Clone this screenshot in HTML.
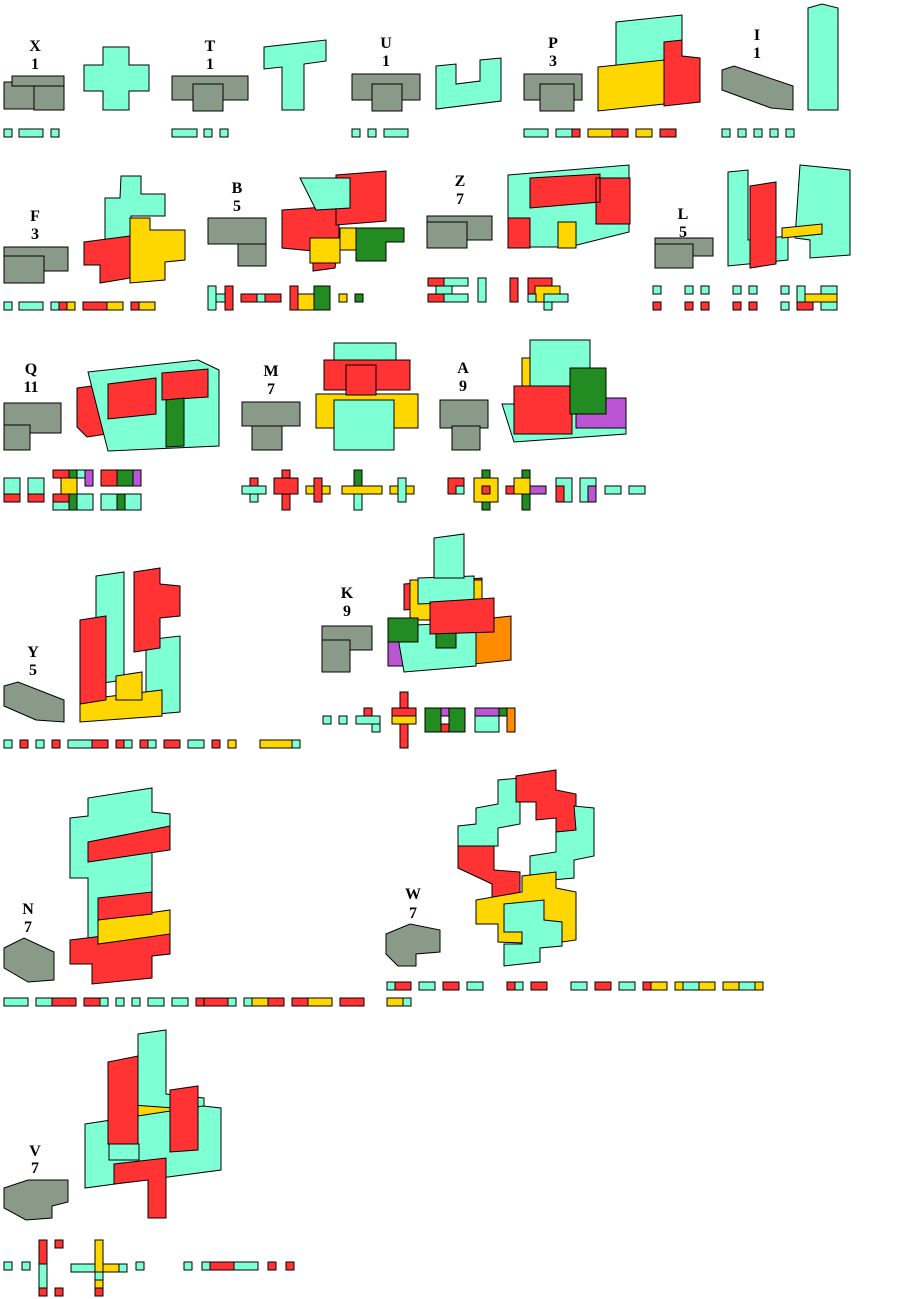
<!DOCTYPE html>
<html><head><meta charset="utf-8"><style>
html,body{margin:0;padding:0;background:#fff;width:900px;height:1299px;overflow:hidden}
svg text{font-family:"Liberation Serif",serif;font-weight:bold;font-size:16px;text-anchor:middle}
.a{fill:#7fffd4;stroke:#000;stroke-width:1}
.r{fill:#ff3333;stroke:#000;stroke-width:1}
.y{fill:#ffd700;stroke:#000;stroke-width:1}
.g{fill:#228b22;stroke:#000;stroke-width:1}
.p{fill:#ba55d3;stroke:#000;stroke-width:1}
.o{fill:#ff8c00;stroke:#000;stroke-width:1}
.k{fill:#8a9a88;stroke:#000;stroke-width:1}
</style></head><body>
<svg width="900" height="1299" xmlns="http://www.w3.org/2000/svg">
<!-- Row 1 -->
<text x="35" y="51">X</text><text x="35" y="69">1</text>
<rect class="k" x="4" y="82" width="30" height="27"/><rect class="k" x="34" y="84" width="30" height="26"/><rect class="k" x="12" y="76" width="52" height="10"/>
<path class="a" d="M103 47h26v18h20v26h-20v19h-26v-19h-19v-26h19z"/>
<rect class="a" x="4" y="129" width="8" height="8"/><rect class="a" x="19" y="129" width="24" height="8"/><rect class="a" x="51" y="129" width="8" height="8"/>

<text x="210" y="51">T</text><text x="210" y="69">1</text>
<rect class="k" x="172" y="76" width="76" height="24"/><rect class="k" x="193" y="84" width="30" height="27"/>
<path class="a" d="M264 47l62-7v21l-22 3v46h-22v-43l-18 2z"/>
<rect class="a" x="172" y="129" width="25" height="8"/><rect class="a" x="204" y="129" width="8" height="8"/><rect class="a" x="220" y="129" width="8" height="8"/>

<text x="386" y="48">U</text><text x="386" y="66">1</text>
<rect class="k" x="352" y="74" width="68" height="26"/><rect class="k" x="372" y="84" width="30" height="27"/>
<path class="a" d="M436 66l20-2v20l24-3v-21l21-2v43l-65 8z"/>
<rect class="a" x="352" y="129" width="8" height="8"/><rect class="a" x="368" y="129" width="8" height="8"/><rect class="a" x="384" y="129" width="24" height="8"/>

<text x="553" y="48">P</text><text x="553" y="66">3</text>
<rect class="k" x="524" y="74" width="58" height="26"/><rect class="k" x="540" y="84" width="34" height="27"/>
<path class="a" d="M616 22l66-7v44l-66 8z"/>
<path class="y" d="M598 67l66-7v44l-66 7z"/>
<path class="r" d="M664 42l18-2v16l18 2v44l-36 4z"/>
<rect class="a" x="524" y="129" width="24" height="8"/><rect class="a" x="556" y="129" width="16" height="8"/><rect class="r" x="572" y="129" width="8" height="8"/><rect class="y" x="588" y="129" width="24" height="8"/><rect class="r" x="612" y="129" width="16" height="8"/><rect class="y" x="636" y="129" width="16" height="8"/><rect class="r" x="660" y="129" width="16" height="8"/>

<text x="757" y="40">I</text><text x="757" y="58">1</text>
<path class="k" d="M722 70l12-4 59 20v24l-22-2-49-18z"/>
<path class="a" d="M808 8l14-4 16 4v102h-30z"/>
<rect class="a" x="722" y="129" width="8" height="8"/><rect class="a" x="738" y="129" width="8" height="8"/><rect class="a" x="754" y="129" width="8" height="8"/><rect class="a" x="770" y="129" width="8" height="8"/><rect class="a" x="786" y="129" width="8" height="8"/>

<!-- Row 2 -->
<text x="35" y="221">F</text><text x="35" y="239">3</text>
<rect class="k" x="4" y="247" width="64" height="24"/><rect class="k" x="4" y="256" width="40" height="27"/>
<path class="a" d="M121 176h20v18h24v22h-34v42h-26v-60h15z"/>
<path class="r" d="M84 242l46-6v42l-30 5v-18h-16z"/>
<path class="y" d="M130 218h20v12h35v30l-20 2v18l-35 3z"/>
<rect class="a" x="4" y="302" width="8" height="8"/><rect class="a" x="19" y="302" width="24" height="8"/><rect class="a" x="51" y="302" width="8" height="8"/><rect class="r" x="59" y="302" width="8" height="8"/><rect class="y" x="67" y="302" width="8" height="8"/><rect class="r" x="83" y="302" width="24" height="8"/><rect class="y" x="107" y="302" width="16" height="8"/><rect class="r" x="131" y="302" width="8" height="8"/><rect class="y" x="139" y="302" width="16" height="8"/>

<text x="237" y="193">B</text><text x="237" y="211">5</text>
<rect class="k" x="208" y="218" width="58" height="26"/><rect class="k" x="238" y="244" width="28" height="22"/>
<path class="r" d="M282 210l57-4v36l-4 26-22 3v-20l-31-3z"/>
<path class="y" d="M310 238h30v25h-30zM340 228h27v22h-27z"/>
<path class="g" d="M356 228h48v14h-18v19h-30z"/>
<path class="r" d="M336 175l50-4v50l-50 4z"/>
<path class="a" d="M300 178h50v30l-34 2z"/>
<rect class="a" x="208" y="286" width="8" height="24"/><rect class="a" x="216" y="294" width="9" height="8"/><rect class="r" x="225" y="286" width="8" height="24"/><rect class="r" x="241" y="294" width="16" height="8"/><rect class="a" x="257" y="294" width="8" height="8"/><rect class="r" x="265" y="294" width="16" height="8"/><rect class="r" x="290" y="286" width="8" height="24"/><rect class="y" x="298" y="294" width="16" height="16"/><rect class="g" x="314" y="286" width="16" height="24"/><rect class="y" x="339" y="294" width="8" height="8"/><rect class="g" x="355" y="294" width="8" height="8"/>

<text x="460" y="186">Z</text><text x="460" y="204">7</text>
<rect class="k" x="427" y="216" width="65" height="24"/><rect class="k" x="427" y="222" width="40" height="26"/>
<path class="a" d="M508 175l121-10v67l-60 15h-61z"/>
<path class="r" d="M508 218h22v30h-22zM530 178l70-4v28l-70 6zM596 178h34v46h-34z"/>
<path class="y" d="M558 222h18v26h-18z"/>
<rect class="r" x="428" y="278" width="16" height="8"/><rect class="a" x="444" y="278" width="24" height="8"/><rect class="a" x="436" y="286" width="16" height="8"/><rect class="r" x="428" y="294" width="16" height="8"/><rect class="a" x="444" y="294" width="24" height="8"/><rect class="a" x="478" y="278" width="8" height="24"/><rect class="r" x="510" y="278" width="8" height="24"/><rect class="r" x="528" y="278" width="24" height="16"/><rect class="y" x="535" y="286" width="25" height="16"/><rect class="a" x="528" y="294" width="8" height="8"/><rect class="a" x="544" y="294" width="24" height="8"/><rect class="a" x="544" y="302" width="8" height="8"/>

<rect class="k" x="655" y="238" width="58" height="18"/><rect class="k" x="655" y="244" width="38" height="24"/>
<text x="683" y="219">L</text><text x="683" y="237">5</text>
<path class="a" d="M728 172l20-2v70l40-4v24l-60 6z"/>
<path class="a" d="M800 165l50 5v85l-40 3v-18l-15-2z"/>
<path class="y" d="M782 228l40-4v10l-40 4z"/>
<path class="r" d="M750 186l26-4v82l-26 4z"/>
<rect class="a" x="653" y="286" width="8" height="8"/><rect class="r" x="653" y="302" width="8" height="8"/><rect class="a" x="685" y="286" width="8" height="8"/><rect class="a" x="701" y="286" width="8" height="8"/><rect class="r" x="685" y="302" width="8" height="8"/><rect class="r" x="701" y="302" width="8" height="8"/><rect class="a" x="733" y="286" width="8" height="8"/><rect class="a" x="749" y="286" width="8" height="8"/><rect class="r" x="733" y="302" width="8" height="8"/><rect class="r" x="749" y="302" width="8" height="8"/><rect class="a" x="781" y="286" width="8" height="8"/><rect class="a" x="781" y="302" width="8" height="8"/><rect class="a" x="797" y="286" width="8" height="16"/><rect class="y" x="805" y="294" width="32" height="8"/><rect class="a" x="821" y="286" width="16" height="8"/><rect class="r" x="797" y="302" width="16" height="8"/><rect class="a" x="821" y="302" width="16" height="8"/>

<!-- Row 3 -->
<text x="31" y="374">Q</text><text x="31" y="392">11</text>
<rect class="k" x="4" y="403" width="57" height="30"/><rect class="k" x="4" y="425" width="26" height="25"/>
<path class="r" d="M77 388l30-4v50l-20 3-10-10z"/>
<path class="a" d="M88 372l110-12 21 10v76l-111 5z"/>
<path class="r" d="M108 384l48-6v36l-48 5zM162 373l46-4v28l-46 3z"/>
<path class="g" d="M166 400l18-2v48l-18 1z"/>
<rect class="a" x="4" y="478" width="16" height="16"/><rect class="r" x="4" y="494" width="16" height="8"/><rect class="a" x="28" y="478" width="16" height="16"/><rect class="r" x="28" y="494" width="16" height="8"/>
<rect class="r" x="53" y="470" width="16" height="8"/><rect class="g" x="69" y="470" width="8" height="8"/><rect class="a" x="77" y="470" width="8" height="8"/><rect class="p" x="85" y="470" width="8" height="16"/><rect class="y" x="61" y="478" width="16" height="16"/><rect class="r" x="53" y="494" width="16" height="8"/><rect class="g" x="69" y="494" width="8" height="16"/><rect class="a" x="77" y="494" width="16" height="16"/><rect class="a" x="53" y="502" width="16" height="8"/>
<rect class="r" x="101" y="470" width="16" height="16"/><rect class="g" x="117" y="470" width="16" height="16"/><rect class="p" x="133" y="470" width="8" height="16"/><rect class="a" x="101" y="494" width="40" height="16"/><rect class="g" x="117" y="494" width="8" height="16"/>

<text x="271" y="376">M</text><text x="271" y="394">7</text>
<rect class="k" x="242" y="402" width="58" height="24"/><rect class="k" x="252" y="426" width="30" height="24"/>
<path class="a" d="M334 343h62v30h-62z"/>
<path class="r" d="M324 360h86v30h-86z"/>
<path class="y" d="M316 394h102v34h-102z"/>
<path class="a" d="M334 400h60v50h-60z"/>
<path class="r" d="M346 365h30v30h-30z"/>
<rect class="a" x="242" y="486" width="24" height="8"/><rect class="a" x="250" y="494" width="8" height="8"/><rect class="r" x="250" y="478" width="8" height="8"/><rect class="r" x="282" y="470" width="8" height="40"/><rect class="r" x="274" y="478" width="24" height="16"/><rect class="y" x="306" y="486" width="24" height="8"/><rect class="r" x="314" y="478" width="8" height="24"/><rect class="g" x="354" y="470" width="8" height="16"/><rect class="y" x="342" y="486" width="40" height="8"/><rect class="a" x="354" y="494" width="8" height="16"/><rect class="y" x="390" y="486" width="24" height="8"/><rect class="a" x="398" y="478" width="8" height="24"/>

<text x="463" y="373">A</text><text x="463" y="391">9</text>
<rect class="k" x="440" y="400" width="48" height="28"/><rect class="k" x="452" y="426" width="28" height="24"/>
<path class="a" d="M502 404h124v30l-112 8z"/>
<path class="p" d="M576 398h50v30h-50z"/>
<path class="y" d="M522 358h40v36h-40z"/>
<path class="a" d="M530 340h60v50h-60z"/>
<path class="r" d="M514 386h58v48h-58z"/>
<path class="g" d="M570 368h36v46h-36z"/>
<rect class="r" x="448" y="478" width="16" height="16"/><rect class="a" x="456" y="486" width="8" height="8"/><rect class="g" x="482" y="470" width="8" height="40"/><rect class="y" x="474" y="478" width="24" height="24"/><rect class="r" x="482" y="486" width="8" height="8"/><rect class="g" x="522" y="470" width="8" height="40"/><rect class="r" x="506" y="486" width="40" height="8"/><rect class="y" x="514" y="478" width="16" height="16"/><rect class="p" x="530" y="486" width="16" height="8"/><rect class="a" x="556" y="478" width="16" height="24"/><rect class="r" x="556" y="486" width="8" height="16"/><rect class="a" x="580" y="478" width="16" height="24"/><rect class="p" x="588" y="486" width="8" height="16"/><rect class="a" x="605" y="486" width="16" height="8"/><rect class="a" x="629" y="486" width="16" height="8"/>

<!-- Row 4 -->
<text x="33" y="657">Y</text><text x="33" y="675">5</text>
<path class="k" d="M4 686l14-4 46 18v22l-28-2-32-14z"/>
<path class="a" d="M96 576l28-4v108l-28 4z"/>
<path class="a" d="M146 640l34-4v76l-34 3z"/>
<path class="y" d="M80 700l82-10v26l-82 6z"/>
<path class="y" d="M116 676l26-4v28h-26z"/>
<path class="r" d="M80 620l26-4v84l-26 4zM134 572l26-4v16l20 2v30l-20 2v30l-26 4z"/>
<rect class="a" x="4" y="740" width="8" height="8"/><rect class="r" x="20" y="740" width="8" height="8"/><rect class="a" x="36" y="740" width="8" height="8"/><rect class="r" x="52" y="740" width="8" height="8"/><rect class="a" x="68" y="740" width="24" height="8"/><rect class="r" x="92" y="740" width="16" height="8"/><rect class="r" x="116" y="740" width="16" height="8"/><rect class="a" x="124" y="740" width="8" height="8"/><rect class="r" x="140" y="740" width="16" height="8"/><rect class="a" x="148" y="740" width="8" height="8"/><rect class="r" x="164" y="740" width="16" height="8"/><rect class="a" x="188" y="740" width="16" height="8"/><rect class="r" x="212" y="740" width="8" height="8"/><rect class="y" x="228" y="740" width="8" height="8"/><rect class="y" x="260" y="740" width="32" height="8"/><rect class="a" x="292" y="740" width="8" height="8"/>

<text x="347" y="598">K</text><text x="347" y="616">9</text>
<rect class="k" x="322" y="626" width="50" height="24"/><rect class="k" x="322" y="640" width="28" height="32"/>
<path class="p" d="M388 636h20v30h-20z"/>
<path class="o" d="M474 620l37-4v44l-37 4z"/>
<path class="a" d="M396 626l80-4v44l-72 6z"/>
<path class="r" d="M404 584l78-6v26l-78 6z"/>
<path class="y" d="M410 580h72v40h-72z"/>
<path class="g" d="M388 618h30v24h-30zM436 626h20v22h-20z"/>
<path class="a" d="M418 578l56-2v26l-56 2z"/>
<path class="a" d="M434 538l30-4v44h-30z"/>
<path class="r" d="M430 602l64-4v34l-64 2z"/>
<rect class="a" x="323" y="716" width="8" height="8"/><rect class="a" x="339" y="716" width="8" height="8"/><rect class="a" x="356" y="716" width="24" height="8"/><rect class="r" x="364" y="708" width="8" height="8"/><rect class="a" x="372" y="724" width="8" height="8"/><rect class="r" x="400" y="692" width="8" height="56"/><rect class="r" x="392" y="708" width="24" height="8"/><rect class="y" x="392" y="716" width="24" height="8"/><rect class="g" x="425" y="708" width="16" height="24"/><rect class="p" x="441" y="708" width="8" height="8"/><rect class="g" x="449" y="708" width="16" height="24"/><rect class="r" x="441" y="724" width="8" height="8"/><rect class="p" x="475" y="708" width="24" height="8"/><rect class="a" x="475" y="716" width="24" height="16"/><rect class="g" x="499" y="708" width="8" height="8"/><rect class="o" x="507" y="708" width="8" height="24"/>

<!-- Row 5 -->
<text x="28" y="914">N</text><text x="28" y="932">7</text>
<path class="k" d="M4 948l20-10 30 14v28l-26 2-24-14z"/>
<path class="a" d="M70 818l18-2v-18l64-10v24l18 2v24l-18 2v98h-64v-60h-18z"/>
<path class="r" d="M88 842l82-16v24l-82 12z"/>
<path class="r" d="M70 940l100-12v26l-18 2v22l-60 6v-20h-22z"/>
<path class="y" d="M98 920l72-10v24l-72 10z"/>
<path class="r" d="M98 898l54-6v22l-54 6z"/>
<rect class="a" x="4" y="998" width="24" height="8"/><rect class="a" x="36" y="998" width="16" height="8"/><rect class="r" x="52" y="998" width="24" height="8"/><rect class="r" x="84" y="998" width="16" height="8"/><rect class="a" x="100" y="998" width="8" height="8"/><rect class="a" x="116" y="998" width="8" height="8"/><rect class="a" x="132" y="998" width="8" height="8"/><rect class="a" x="148" y="998" width="16" height="8"/><rect class="a" x="172" y="998" width="16" height="8"/><rect class="r" x="196" y="998" width="8" height="8"/><rect class="r" x="204" y="998" width="24" height="8"/><rect class="a" x="228" y="998" width="8" height="8"/><rect class="a" x="244" y="998" width="8" height="8"/><rect class="y" x="252" y="998" width="16" height="8"/><rect class="r" x="268" y="998" width="16" height="8"/><rect class="r" x="292" y="998" width="16" height="8"/><rect class="y" x="308" y="998" width="24" height="8"/><rect class="r" x="340" y="998" width="24" height="8"/>

<text x="413" y="899">W</text><text x="413" y="918">7</text>
<path class="k" d="M386 934l24-10 30 6v22l-24 2v12h-18l-12-12z"/>
<path class="a" d="M458 826l18-2v-16l22-4v-24l22-2v46l-22 4v18h-40z"/>
<path class="r" d="M516 776l40-6v20l20 4v42l-20 2v-20l-20 2v-18h-20z"/>
<path class="a" d="M530 856l26-4v-20l20-2-2-24 20 2v48l-20 4v18l-44 4z"/>
<path class="r" d="M458 846h36v24l26 2v30l-28 2v-20l-34-16z"/>
<path class="y" d="M476 900l46-8v-16l34-4v16l20 4v48l-28 4-50-2v-18h-22z"/>
<path class="a" d="M504 904l40-4v20l18 2v24l-22 2v14l-36 4v-22h18v-12h-18z"/>
<rect class="a" x="387" y="982" width="8" height="8"/><rect class="r" x="395" y="982" width="16" height="8"/><rect class="a" x="419" y="982" width="16" height="8"/><rect class="r" x="443" y="982" width="16" height="8"/><rect class="a" x="467" y="982" width="16" height="8"/><rect class="r" x="507" y="982" width="8" height="8"/><rect class="a" x="515" y="982" width="8" height="8"/><rect class="r" x="531" y="982" width="16" height="8"/><rect class="a" x="571" y="982" width="16" height="8"/><rect class="r" x="595" y="982" width="16" height="8"/><rect class="a" x="619" y="982" width="16" height="8"/><rect class="r" x="643" y="982" width="8" height="8"/><rect class="y" x="651" y="982" width="16" height="8"/><rect class="y" x="675" y="982" width="8" height="8"/><rect class="a" x="683" y="982" width="16" height="8"/><rect class="y" x="699" y="982" width="16" height="8"/><rect class="y" x="723" y="982" width="16" height="8"/><rect class="a" x="739" y="982" width="16" height="8"/><rect class="y" x="755" y="982" width="8" height="8"/><rect class="y" x="387" y="998" width="16" height="8"/><rect class="a" x="403" y="998" width="8" height="8"/>

<!-- Row 6 -->
<text x="35" y="1156">V</text><text x="35" y="1173">7</text>
<path class="k" d="M4 1188l24-8 40 0v22l-16 4v12l-26 2-22-12z"/>
<path class="a" d="M138 1034l28-4v64l38 4v16l-66-4z"/>
<path class="y" d="M118 1104l84 6v16l-84-10z"/>
<path class="a" d="M85 1124l118-18 18 2v62l-106 14-30 4z"/>
<path class="r" d="M108 1062l30-6v90l-30-2z"/>
<path class="r" d="M170 1090l28-4v64l-28 2z"/>
<path class="r" d="M114 1164l52-6v60h-18v-38l-34 4z"/>
<rect class="a" x="109" y="1144" width="30" height="16"/>
<rect class="a" x="4" y="1262" width="8" height="8"/><rect class="a" x="22" y="1262" width="8" height="8"/><rect class="r" x="39" y="1240" width="8" height="24"/><rect class="a" x="39" y="1264" width="8" height="24"/><rect class="r" x="39" y="1288" width="8" height="8"/><rect class="r" x="55" y="1240" width="8" height="8"/><rect class="r" x="55" y="1288" width="8" height="8"/><rect class="a" x="71" y="1264" width="24" height="8"/><rect class="y" x="95" y="1240" width="8" height="56"/><rect class="y" x="103" y="1264" width="16" height="8"/><rect class="a" x="119" y="1264" width="8" height="8"/><rect class="a" x="95" y="1272" width="8" height="8"/><rect class="r" x="95" y="1288" width="8" height="8"/><rect class="a" x="136" y="1262" width="8" height="8"/><rect class="a" x="184" y="1262" width="8" height="8"/><rect class="a" x="202" y="1262" width="8" height="8"/><rect class="r" x="210" y="1262" width="24" height="8"/><rect class="a" x="234" y="1262" width="24" height="8"/><rect class="r" x="268" y="1262" width="8" height="8"/><rect class="r" x="286" y="1262" width="8" height="8"/>
</svg>
</body></html>
